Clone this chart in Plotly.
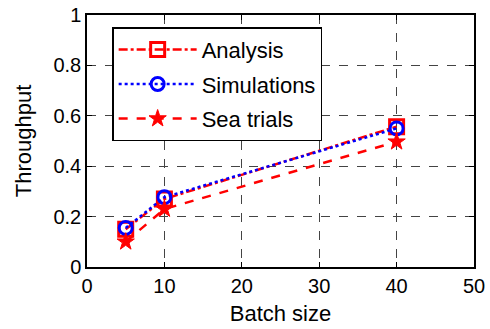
import plotly.graph_objects as go

batch = [5, 10, 40]
analysis = [0.15, 0.27, 0.557]
simulations = [0.155, 0.277, 0.55]
sea_trials = [0.10, 0.23, 0.497]

x_ticks = [0, 10, 20, 30, 40, 50]
y_ticks = [0, 0.2, 0.4, 0.6, 0.8, 1]
y_tick_labels = ["0", "0.2", "0.4", "0.6", "0.8", "1"]

FONT = "Liberation Sans, Arial, sans-serif"

fig = go.Figure()
fig.add_trace(go.Scatter(
    x=batch, y=analysis, name="Analysis", mode="lines+markers", legendgroup="a",
    line=dict(color="red", width=2.5, dash="dashdot"),
    marker=dict(symbol="square-open", size=14, color="red", line=dict(width=3, color="red")),
))
fig.add_trace(go.Scatter(
    x=batch, y=simulations, name="Simulations", mode="lines+markers", legendgroup="s",
    line=dict(color="blue", width=2.5, dash="dot"),
    marker=dict(symbol="circle-open", size=13, color="blue", line=dict(width=3, color="blue")),
))
fig.add_trace(go.Scatter(
    x=batch, y=sea_trials, name="Sea trials", mode="lines+markers", legendgroup="t",
    line=dict(color="red", width=2.5, dash="dash"),
    marker=dict(symbol="star", size=13, color="red", line=dict(width=1, color="red")),
))

axis_common = dict(
    showline=True, linecolor="black", linewidth=1.5, mirror="ticks",
    ticks="inside", ticklen=5, tickcolor="black",
    showgrid=True, gridcolor="#444444", griddash="dash", gridwidth=1,
    zeroline=False, automargin=False,
    tickfont=dict(family=FONT, size=20, color="black"),
)

fig.update_xaxes(range=[0, 50], tickvals=x_ticks,
                 title=dict(text="Batch size", standoff=10,
                            font=dict(family=FONT, size=22, color="black")),
                 **axis_common)
fig.update_yaxes(range=[0, 1], tickvals=y_ticks, ticktext=y_tick_labels,
                 title=dict(text="Throughput", standoff=16,
                            font=dict(family=FONT, size=22, color="black")),
                 **axis_common)

fig.update_layout(
    width=490, height=329,
    margin=dict(l=87, r=16, t=15, b=62),
    plot_bgcolor="white", paper_bgcolor="white",
    font=dict(family=FONT, size=20, color="black"),
    showlegend=True,
    legend=dict(
        x=0.065, y=0.952, xanchor="left", yanchor="top",
        bgcolor="white", bordercolor="black", borderwidth=1.5,
        font=dict(family=FONT, size=22, color="black"),
        tracegroupgap=3, itemwidth=78,
    ),
)

fig.write_html("out.html", config={"displayModeBar": False},
               post_script="document.body.style.margin='0';")
